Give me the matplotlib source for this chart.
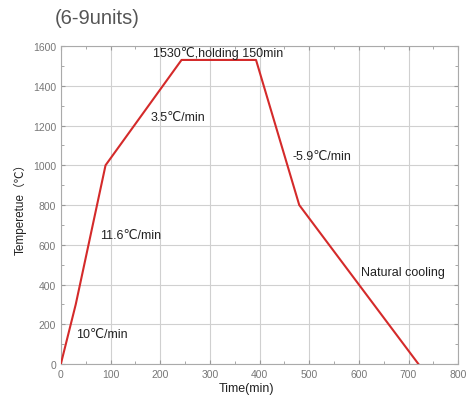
import matplotlib
matplotlib.use('Agg')
import matplotlib.pyplot as plt
from matplotlib.ticker import MultipleLocator

plt.rcParams['font.family'] = ['Liberation Sans', 'DejaVu Sans']

# furnace profile
time_min = [0, 30, 90, 243, 393, 480, 720]
temp_c = [0, 300, 1000, 1530, 1530, 800, 0]

# labels along the curve (text, x, y)
notes = [
    ('1530\u2103,holding 150min', 185, 1565),
    ('3.5\u2103/min', 180, 1245),
    ('-5.9\u2103/min', 467, 1045),
    ('11.6\u2103/min', 79, 650),
    ('10\u2103/min', 30, 150),
    ('Natural cooling', 604, 465),
]

fig = plt.figure(figsize=(4.68, 4.02), dpi=100)
ax = fig.add_axes([0.130, 0.092, 0.849, 0.791])

ax.plot(time_min, temp_c, color='#d42a2a', lw=1.5, zorder=3)

for txt, x, y in notes:
    ax.text(x, y, txt, fontsize=9, color='#222222', va='center', ha='left')

ax.set_xlim(0, 800)
ax.set_ylim(0, 1600)
ax.xaxis.set_major_locator(MultipleLocator(100))
ax.xaxis.set_minor_locator(MultipleLocator(50))
ax.yaxis.set_major_locator(MultipleLocator(200))
ax.yaxis.set_minor_locator(MultipleLocator(100))
ax.grid(True, which='major', color='#d0d0d0', lw=0.8)
ax.tick_params(which='both', direction='in', top=True, right=True,
               colors='#999999', labelcolor='#777777', labelsize=7.5)
ax.tick_params(which='major', length=3)
ax.tick_params(which='minor', length=2)
for s in ax.spines.values():
    s.set_color('#aaaaaa')

ax.set_xlabel('Time(min)', fontsize=9, color='#222222', labelpad=2)
ax.xaxis.set_label_coords(0.468, -0.055)
ax.set_ylabel('Temperetue\uff08\u2103\uff09', fontsize=8.5, color='#222222', labelpad=4,
              family=['Liberation Sans', 'Noto Sans CJK SC', 'DejaVu Sans'])

fig.text(0.117, 0.955, '(6-9units)', fontsize=14.5, color='#555555', va='center', ha='left')

fig.savefig('out.png', dpi=100)
